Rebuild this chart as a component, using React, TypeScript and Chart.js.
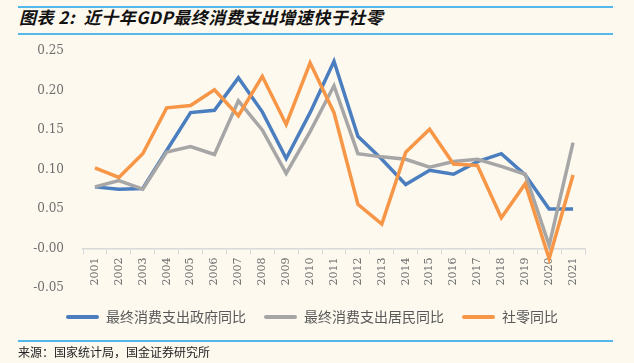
import React, { useEffect, useRef } from "react";
import { Chart, registerables } from "chart.js";

Chart.register(...registerables);

const years = ["2001","2002","2003","2004","2005","2006","2007","2008","2009","2010","2011","2012","2013","2014","2015","2016","2017","2018","2019","2020","2021"];
const govValues = [0.078, 0.075, 0.076, 0.124, 0.172, 0.175, 0.216, 0.173, 0.114, 0.172, 0.237, 0.142, 0.113, 0.081, 0.099, 0.094, 0.110, 0.120, 0.093, 0.050, 0.050];
const householdValues = [0.078, 0.086, 0.075, 0.122, 0.129, 0.119, 0.187, 0.150, 0.095, 0.148, 0.206, 0.120, 0.116, 0.113, 0.103, 0.110, 0.113, 0.104, 0.094, 0.004, 0.134];
const retailValues = [0.102, 0.090, 0.120, 0.178, 0.181, 0.201, 0.168, 0.218, 0.157, 0.235, 0.172, 0.056, 0.031, 0.122, 0.151, 0.107, 0.105, 0.039, 0.082, -0.013, 0.093];
const seriesNames = ["最终消费支出政府同比", "最终消费支出居民同比", "社零同比"];
const titleText = "图表 2:  近十年GDP最终消费支出增速快于社零";
const sourceText = "来源：国家统计局，国金证券研究所";

const BG = "#fdf9ef";
const BLUE = "#4a7ebf";
const GRAY = "#a6a6a6";
const ORANGE = "#f79646";
const RULE = "#55b8ea";

const legendShift = {
  id: "legendShift",
  afterLayout(chart: any) {
    const lg = chart.legend;
    if (!lg) return;
    lg.left += 8;
    lg.right += 8;
    lg.top += 4;
    lg.bottom += 4;
  },
};

export default function App() {
  const ref = useRef<HTMLCanvasElement | null>(null);

  useEffect(() => {
    if (!ref.current) return;
    const chart = new Chart(ref.current, {
      type: "line",
      data: {
        labels: years,
        datasets: [
          { label: seriesNames[0], data: govValues, borderColor: BLUE, backgroundColor: BLUE, order: 3 },
          { label: seriesNames[1], data: householdValues, borderColor: GRAY, backgroundColor: GRAY, order: 2 },
          { label: seriesNames[2], data: retailValues, borderColor: ORANGE, backgroundColor: ORANGE, order: 1 },
        ],
      },
      options: {
        responsive: false,
        animation: false,
        devicePixelRatio: 1,
        elements: {
          line: { borderWidth: 3.5, tension: 0, borderCapStyle: "butt", borderJoinStyle: "miter" },
          point: { radius: 0, hoverRadius: 0 },
        },
        layout: { padding: { left: 23, right: 49, top: 51, bottom: 33 } },
        scales: {
          x: {
            type: "category",
            position: { y: 0 },
            offset: true,
            grid: { display: true, drawOnChartArea: false, drawTicks: true, tickLength: 5, offset: true, color: "#d9d9d9" },
            border: { display: true, color: "#d9d9d9", width: 1.5 },
            ticks: {
              minRotation: 90,
              maxRotation: 90,
              padding: 4,
              autoSkip: false,
              color: "#6e6e6e",
              font: { family: "'DejaVu Serif'", size: 11 },
            },
          },
          y: {
            min: -0.05,
            max: 0.25,
            grid: { display: false, drawTicks: false },
            border: { display: false },
            afterFit: (scale: any) => { scale.width = 60; },
            ticks: {
              stepSize: 0.05,
              padding: 19,
              color: "#6e6e6e",
              font: { family: "'DejaVu Serif'", size: 12 },
              callback: (v: any) => Number(v).toFixed(2),
            },
          },
        },
        plugins: {
          tooltip: { enabled: false },
          legend: {
            display: true,
            position: "bottom",
            labels: {
              boxWidth: 33,
              boxHeight: 4,
              padding: 18,
              color: "#595959",
              useBorderRadius: true,
              borderRadius: 2,
              font: { family: "'Noto Sans CJK SC'", size: 14 },
              generateLabels: (c: any) =>
                c.data.datasets.map((ds: any, i: number) => ({
                  text: ds.label,
                  fillStyle: ds.borderColor,
                  strokeStyle: ds.borderColor,
                  lineWidth: 0,
                  hidden: false,
                  datasetIndex: i,
                  fontColor: "#595959",
                  borderRadius: 2,
                })),
            },
          },
        },
      },
      plugins: [legendShift],
    });
    return () => chart.destroy();
  }, []);

  return (
    <div style={{ position: "absolute", left: 0, top: 0, width: 634, height: 363, background: BG, overflow: "hidden" }}>
      <div style={{ position: "absolute", left: 18, top: 6, width: 595, height: 2, background: RULE }} />
      <div
        style={{
          position: "absolute",
          left: 19,
          top: 7,
          height: 20,
          lineHeight: "20px",
          fontFamily: "'Noto Sans CJK SC', sans-serif",
          fontSize: 17,
          fontWeight: "bold",
          fontStyle: "italic",
          letterSpacing: "0.5px",
          color: "#111",
          whiteSpace: "pre",
        }}
      >
        {titleText}
      </div>
      <div style={{ position: "absolute", left: 18, top: 33, width: 595, height: 2, background: RULE }} />
      <canvas ref={ref} width={634} height={363} style={{ position: "absolute", left: 0, top: 0, width: 634, height: 363 }} />
      <div style={{ position: "absolute", left: 18, top: 340, width: 595, height: 2, background: RULE }} />
      <div
        style={{
          position: "absolute",
          left: 18,
          top: 344,
          lineHeight: "16px",
          fontFamily: "'Noto Sans CJK SC', sans-serif",
          fontSize: 12,
          color: "#222",
          whiteSpace: "pre",
        }}
      >
        {sourceText}
      </div>
    </div>
  );
}
